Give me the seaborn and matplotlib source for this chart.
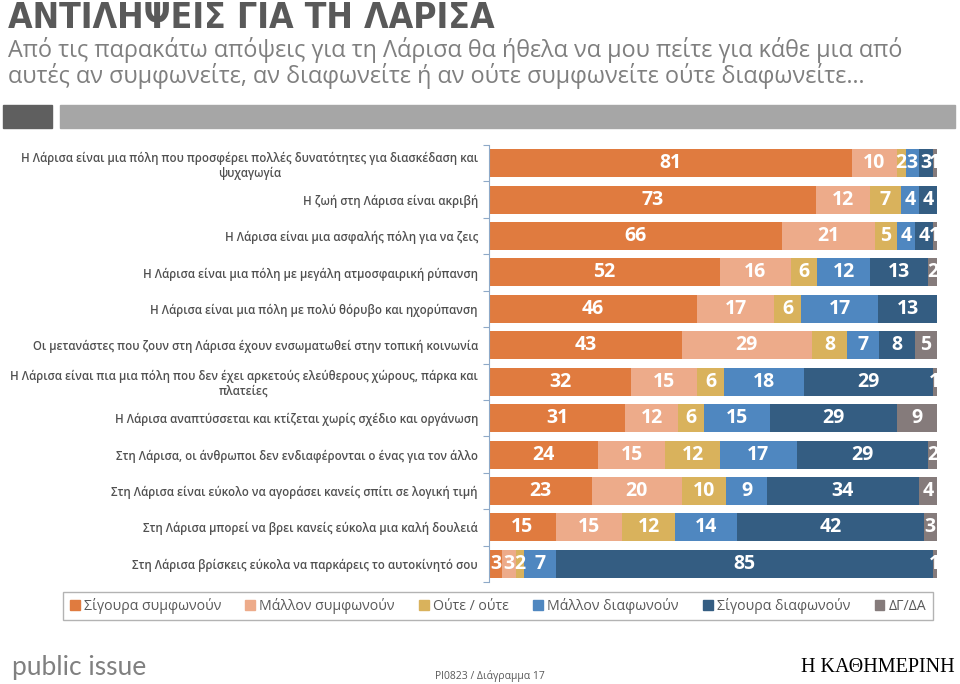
import matplotlib
matplotlib.use("Agg")
import matplotlib.pyplot as plt
import seaborn as sns
import pandas as pd
import numpy as np
from matplotlib.patches import Rectangle

categories = [
    "Η Λάρισα είναι μια πόλη που προσφέρει πολλές δυνατότητες για διασκέδαση και\nψυχαγωγία",
    "Η ζωή στη Λάρισα είναι ακριβή",
    "Η Λάρισα είναι μια ασφαλής πόλη για να ζεις",
    "Η Λάρισα είναι μια πόλη με μεγάλη ατμοσφαιρική ρύπανση",
    "Η Λάρισα είναι μια πόλη με πολύ θόρυβο και ηχορύπανση",
    "Οι μετανάστες που ζουν στη Λάρισα έχουν ενσωματωθεί στην τοπική κοινωνία",
    "Η Λάρισα είναι πια μια πόλη που δεν έχει αρκετούς ελεύθερους χώρους, πάρκα και\nπλατείες",
    "Η Λάρισα αναπτύσσεται και κτίζεται χωρίς σχέδιο και οργάνωση",
    "Στη Λάρισα, οι άνθρωποι δεν ενδιαφέρονται ο ένας για τον άλλο",
    "Στη Λάρισα είναι εύκολο να αγοράσει κανείς σπίτι σε λογική τιμή",
    "Στη Λάρισα μπορεί να βρει κανείς εύκολα μια καλή δουλειά",
    "Στη Λάρισα βρίσκεις εύκολα να παρκάρεις το αυτοκίνητό σου",
]

series_names = ["Σίγουρα συμφωνούν", "Μάλλον συμφωνούν", "Ούτε / ούτε",
                "Μάλλον διαφωνούν", "Σίγουρα διαφωνούν", "ΔΓ/ΔΑ"]

sigoura_symf = [81, 73, 66, 52, 46, 43, 32, 31, 24, 23, 15, 3]
mallon_symf = [10, 12, 21, 16, 17, 29, 15, 12, 15, 20, 15, 3]
oute_oute = [2, 7, 5, 6, 6, 8, 6, 6, 12, 10, 12, 2]
mallon_diaf = [3, 4, 4, 12, 17, 7, 18, 15, 17, 9, 14, 7]
sigoura_diaf = [3, 4, 4, 13, 13, 8, 29, 29, 29, 34, 42, 85]
dg_da = [1, 0, 1, 2, 0, 5, 1, 9, 2, 4, 3, 1]

colors = ["#E07B3F", "#EDAB8A", "#D9B25C", "#4F87C0", "#345D82", "#857B7B"]

series_vals = [sigoura_symf, mallon_symf, oute_oute, mallon_diaf, sigoura_diaf, dg_da]
vals = np.array(series_vals, dtype=float).T  # rows = categories
norm = vals / vals.sum(axis=1, keepdims=True) * 100
cum = np.cumsum(norm, axis=1)

df = pd.DataFrame(cum, columns=series_names)
df["cat"] = categories

plt.rcParams['font.family'] = ['Open Sans', 'DejaVu Sans']
fig = plt.figure(figsize=(9.6, 6.84), dpi=100)
ax = fig.add_axes([489/960, 1-582/684, 448/960, 437/684])

for j in range(len(series_names)-1, -1, -1):
    sns.barplot(data=df, y="cat", x=series_names[j], orient="h", color=colors[j],
                width=0.77, saturation=1, ax=ax,
                edgecolor="none", linewidth=0)
if ax.get_legend() is not None:
    ax.get_legend().remove()

ax.set_xlim(0, 100)
ax.set_ylim(11.5, -0.5)
ax.set_xlabel("")
ax.set_ylabel("")
ax.set_xticks([])
for s in ["top", "right", "bottom"]:
    ax.spines[s].set_visible(False)
ax.spines["left"].set_color("#8EA9C8")
ax.spines["left"].set_linewidth(0.8)
ax.tick_params(axis="y", which="major", length=0, pad=8)
ax.set_yticks(np.arange(-0.5, 12, 1), minor=True)
ax.tick_params(axis="y", which="minor", length=4, color="#8EA9C8", width=0.8)
for lab in ax.get_yticklabels():
    lab.set_fontsize(8.3)
    lab.set_fontweight("semibold")
    lab.set_color("#505050")
    lab.set_multialignment("center")

# value labels
for i in range(len(categories)):
    start = 0
    for j in range(len(series_names)):
        w = norm[i, j]
        v = vals[i, j]
        if v > 0:
            ax.text(start + w/2, i, f"{int(v)}", ha="center", va="center",
                    color="white", fontsize=14, fontweight="bold")
        start += w

# legend
handles = [Rectangle((0, 0), 1, 1, color=c) for c in colors]
leg = fig.legend(handles, series_names, loc="center", bbox_to_anchor=(498/960, 1-606/684),
                 ncol=6, frameon=True, fancybox=False, fontsize=10.2,
                 handlelength=0.7, handleheight=0.7, handletextpad=0.3,
                 columnspacing=1.7, borderpad=0.45)
leg.get_frame().set_edgecolor("#A0A0A0")
leg.get_frame().set_linewidth(1)
for t in leg.get_texts():
    t.set_color("#595959")

# header
fig.text(8/960, 1-18/684, "ΑΝΤΙΛΗΨΕΙΣ ΓΙΑ ΤΗ ΛΑΡΙΣΑ", ha="left", va="center",
         fontsize=25.5, fontweight="bold", color="#595959",
         family="DejaVu Sans", fontstretch="condensed")
fig.text(8/960, 1-50/684, "Από τις παρακάτω απόψεις για τη Λάρισα θα ήθελα να μου πείτε για κάθε μια από",
         ha="left", va="center", fontsize=16.8, color="#7F7F7F")
fig.text(8/960, 1-76/684, "αυτές αν συμφωνείτε, αν διαφωνείτε ή αν ούτε συμφωνείτε ούτε διαφωνείτε…",
         ha="left", va="center", fontsize=16.8, color="#7F7F7F")
fig.patches.append(Rectangle((3/960, 1-128/684), 49/960, 23/684, transform=fig.transFigure,
                             color="#5F5F5F", figure=fig))
fig.patches.append(Rectangle((60/960, 1-128/684), 895/960, 23/684, transform=fig.transFigure,
                             color="#A6A6A6", figure=fig))

# footer
fig.text(12/960, 1-667/684, "public issue", ha="left", va="center", fontsize=19,
         color="#808080", family=["Lato", "DejaVu Sans"])
fig.text(490/960, 1-676/684, "PI0823 / Διάγραμμα 17", ha="center", va="center",
         fontsize=7.5, color="#595959")
fig.text(955/960, 1-668/684, "Η ΚΑΘΗΜΕΡΙΝΗ", ha="right", va="center", fontsize=14.5,
         color="black", family=["Liberation Serif", "DejaVu Serif"])

fig.savefig("out.png", dpi=100)
